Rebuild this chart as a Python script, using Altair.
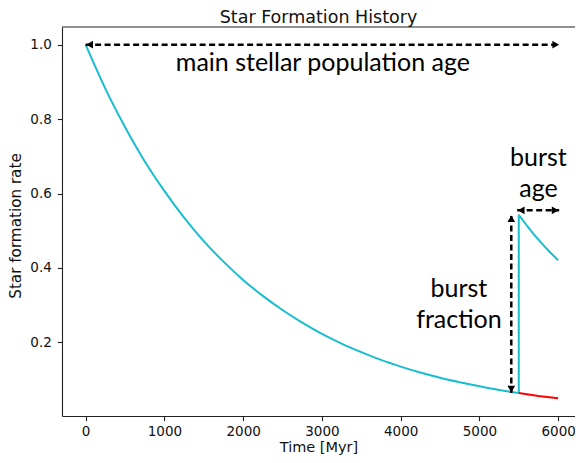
import altair as alt
import pandas as pd

# --- data -------------------------------------------------------------------
t_main = [0, 250, 500, 750, 1000, 1250, 1500, 1750, 2000, 2250, 2500, 2750,
          3000, 3250, 3500, 3750, 4000, 4250, 4500, 4750, 5000, 5250, 5500]
sfr_main = [1.000, 0.882, 0.779, 0.687, 0.607, 0.535, 0.472, 0.417, 0.368,
            0.325, 0.287, 0.253, 0.223, 0.197, 0.174, 0.153, 0.135, 0.119,
            0.105, 0.093, 0.082, 0.072, 0.064]

t_jump = [5500, 5500]
sfr_jump = [0.064, 0.543]

t_burst = [5500, 5625, 5750, 5875, 6000]
sfr_burst = [0.543, 0.508, 0.476, 0.447, 0.421]

t_old = [5500, 5750, 6000]
sfr_old = [0.064, 0.056, 0.050]

# annotation arrows (start/end in data units)
arrow_x = [0, 5480, 5405]
arrow_x2 = [6020, 6013, 5405]
arrow_y = [1.0, 0.555, 0.064]
arrow_y2 = [1.0, 0.555, 0.543]

head_right_x = [6020, 6013]
head_right_y = [1.0, 0.555]
head_left_x = [0, 5480]
head_left_y = [1.0, 0.555]
head_up_x = [5405]
head_up_y = [0.543]
head_down_x = [5405]
head_down_y = [0.064]

label_text = ["main stellar population age", "burst", "age", "burst", "fraction"]
label_x = [3013, 5750, 5750, 4740, 4740]
label_y = [0.930, 0.673, 0.592, 0.323, 0.239]

x_ticks = [0, 1000, 2000, 3000, 4000, 5000, 6000]
y_ticks = [0.2, 0.4, 0.6, 0.8, 1.0]

CYAN = "#17becf"
RED = "#ff0000"
INK = "#222222"

W, H = 513, 389

xs = alt.Scale(domain=[-300, 6214], nice=False, zero=False)
ys = alt.Scale(domain=[0.0023, 1.0475], nice=False, zero=False)

x_enc = alt.X("t:Q", scale=xs,
              axis=alt.Axis(values=x_ticks, format="d", title="Time [Myr]",
                            titleY=35.5, titleBaseline="alphabetic"))
y_enc = alt.Y("v:Q", scale=ys,
              axis=alt.Axis(values=y_ticks, format=".1f", title="Star formation rate",
                            titleX=-42, titleY=198.5, titleBaseline="alphabetic"))

def df(t, v):
    return pd.DataFrame({"t": t, "v": v})

main = alt.Chart(df(t_main, sfr_main)).mark_line(
    color=CYAN, strokeWidth=2, interpolate="monotone").encode(x=x_enc, y=y_enc)
jump = alt.Chart(df(t_jump, sfr_jump)).mark_line(
    color=CYAN, strokeWidth=2).encode(x="t:Q", y="v:Q")
burst = alt.Chart(df(t_burst, sfr_burst)).mark_line(
    color=CYAN, strokeWidth=2, interpolate="monotone").encode(x="t:Q", y="v:Q")
old = alt.Chart(df(t_old, sfr_old)).mark_line(
    color=RED, strokeWidth=2).encode(x="t:Q", y="v:Q")

arrows_df = pd.DataFrame({"x": arrow_x, "x2": arrow_x2, "y": arrow_y, "y2": arrow_y2})
arrows = alt.Chart(arrows_df).mark_rule(
    color="black", strokeWidth=2.5, strokeDash=[6, 3.5]).encode(
    x="x:Q", x2="x2:Q", y="y:Q", y2="y2:Q")

def heads(xv, yv, shape, xo=0, yo=0):
    return alt.Chart(df(xv, yv)).mark_point(
        shape=shape, filled=True, size=60, color="black", opacity=1,
        xOffset=xo, yOffset=yo).encode(x="t:Q", y="v:Q")

h_r = heads(head_right_x, head_right_y, "triangle-right", xo=-4)
h_l = heads(head_left_x, head_left_y, "triangle-left", xo=4)
h_u = heads(head_up_x, head_up_y, "triangle-up", yo=4)
h_d = heads(head_down_x, head_down_y, "triangle-down", yo=-4)

labels = alt.Chart(pd.DataFrame({"t": label_x, "v": label_y, "s": label_text})).mark_text(
    font="Lato", fontSize=25, align="center", baseline="alphabetic", color="black"
).encode(x="t:Q", y="v:Q", text="s:N")

top_border = alt.Chart(pd.DataFrame({"a": [0]})).mark_rule(
    color=INK, strokeWidth=1.1).encode(
    x=alt.value(0), x2=alt.value(W), y=alt.value(0))

chart = alt.layer(
    main, jump, burst, old, arrows, h_r, h_l, h_u, h_d, labels, top_border
).properties(
    width=W, height=H,
    title=alt.TitleParams("Star Formation History", offset=0),
    autosize=alt.AutoSizeParams(type="none"),
    padding={"left": 54, "top": 19, "right": 0, "bottom": 39},
).configure_view(
    stroke=None
).configure_axis(
    grid=False,
    domainColor=INK, domainWidth=1.1,
    tickColor=INK, tickWidth=1.1, tickSize=4.7,
    labelFont="DejaVu Sans", labelFontSize=13.5, labelColor="#111111",
    titleFont="DejaVu Sans", titleFontWeight="normal",
    titleColor="#111111",
).configure_axisX(
    labelPadding=4, titleFontSize=14.5
).configure_axisY(
    labelPadding=6, titleFontSize=15.2
).configure_title(
    font="DejaVu Sans", fontSize=17.5, fontWeight="normal", color="#111111",
    anchor="middle"
)

chart.save("out.html", embed_options={"renderer": "svg", "actions": False})
